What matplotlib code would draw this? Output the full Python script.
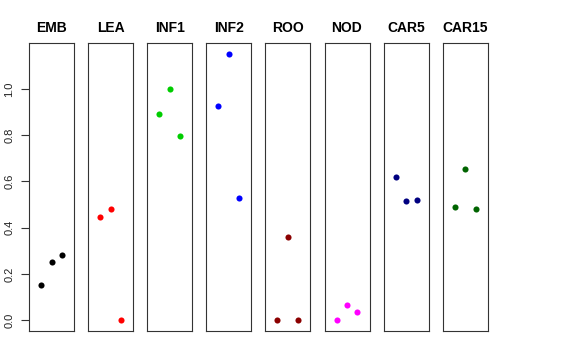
import matplotlib
matplotlib.use('Agg')
from matplotlib import pyplot as plt

plt.rcParams['font.family'] = ['Liberation Sans', 'DejaVu Sans']

tissues = ['EMB', 'LEA', 'INF1', 'INF2', 'ROO', 'NOD', 'CAR5', 'CAR15']
colors = ['black', 'red', '#00cd00', 'blue', '#8b0000', 'magenta', '#000080', '#006400']
values = [
    [0.154, 0.253, 0.281],
    [0.447, 0.479, 0.0],
    [0.890, 1.0, 0.797],
    [0.925, 1.152, 0.527],
    [0.0, 0.361, 0.0],
    [0.0, 0.065, 0.035],
    [0.620, 0.514, 0.521],
    [0.490, 0.652, 0.479],
]
reps = [1, 2, 3]

W, H = 576, 360
fig = plt.figure(figsize=(W / 100, H / 100), dpi=100)

left0, step, pw = 29, 59.1, 45
top, bottom = 43, 331
ymax = max(max(v) for v in values)
pad = 0.04 * ymax

for i, name in enumerate(tissues):
    x0 = left0 + i * step
    ax = fig.add_axes([x0 / W, 1 - bottom / H, pw / W, (bottom - top) / H])
    ax.plot(reps, values[i], 'o', color=colors[i], markersize=4.4, markeredgewidth=0)
    ax.set_xlim(-0.16, 4.16)
    ax.set_ylim(-pad, ymax + pad)
    ax.set_xticks([])
    for s in ax.spines.values():
        s.set_linewidth(0.8)
        s.set_color('#333333')
    ax.set_title(name, fontsize=10, fontweight='bold', pad=8)
    if i == 0:
        ax.set_yticks([0, 0.2, 0.4, 0.6, 0.8, 1.0])
        ax.set_yticklabels(['0.0', '0.2', '0.4', '0.6', '0.8', '1.0'],
                           rotation=90, va='center', fontsize=8, color='#222222')
        ax.tick_params(axis='y', length=5.5, width=0.8, pad=5, color='#333333')
    else:
        ax.set_yticks([])

fig.savefig('out.png', dpi=100)
